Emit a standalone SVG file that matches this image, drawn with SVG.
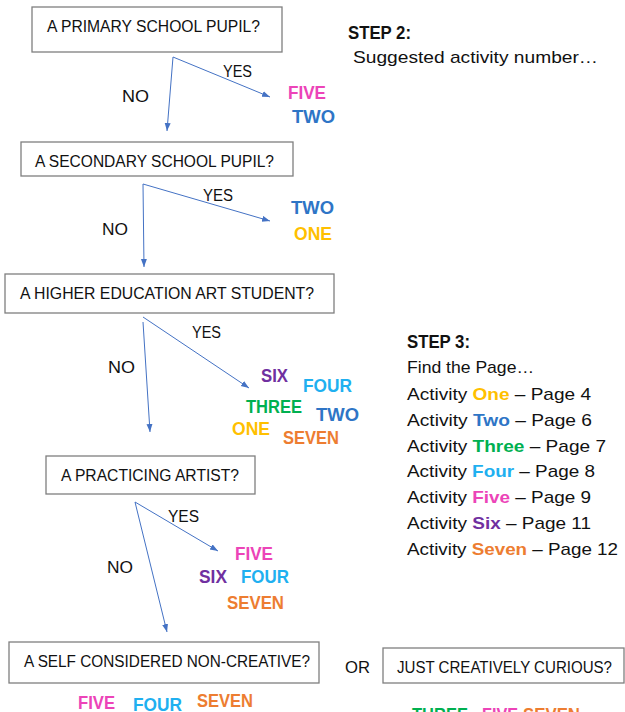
<svg xmlns="http://www.w3.org/2000/svg" width="625" height="712" viewBox="0 0 625 712">
<style>
.box{fill:#fff;stroke:#7f7f7f;stroke-width:1.3}
.bt{font-family:"Liberation Sans",Arial,sans-serif;font-size:16px;fill:#111}
.lbl{font-family:"Liberation Sans",Arial,sans-serif;font-size:16px;fill:#111}
.c{font-family:"Liberation Sans",Arial,sans-serif;font-size:19px;font-weight:bold}
.conn line{stroke:#4472c4;stroke-width:1}
.step{font-family:"Liberation Sans",Arial,sans-serif;font-size:18px;font-weight:bold;fill:#111}
.body{font-family:"Liberation Sans",Arial,sans-serif;font-size:17px;fill:#111}
.one{fill:#ffc000}.two{fill:#2e75c6}.three{fill:#00b050}.four{fill:#1fb0f0}.five{fill:#ec44b8}.six{fill:#7030a0}.seven{fill:#ed7d31}
</style>
<defs>
<marker id="ah" markerUnits="userSpaceOnUse" markerWidth="9" markerHeight="7" refX="8" refY="3" orient="auto">
<path d="M0,0 L8,3 L0,6 z" fill="#4472c4"/>
</marker>
</defs>

<g id="q1">
<rect class="box" x="32" y="7" width="250" height="45"/>
<text class="bt" x="47" y="32" textLength="213" lengthAdjust="spacingAndGlyphs">A PRIMARY SCHOOL PUPIL?</text>
</g>
<g id="q2">
<rect class="box" x="21" y="142" width="272" height="34"/>
<text class="bt" x="35" y="167" textLength="239" lengthAdjust="spacingAndGlyphs">A SECONDARY SCHOOL PUPIL?</text>
</g>
<g id="q3">
<rect class="box" x="5" y="274" width="329" height="39"/>
<text class="bt" x="20" y="299" textLength="294" lengthAdjust="spacingAndGlyphs">A HIGHER EDUCATION ART STUDENT?</text>
</g>
<g id="q4">
<rect class="box" x="46" y="456" width="209" height="38"/>
<text class="bt" x="61" y="481" textLength="178" lengthAdjust="spacingAndGlyphs">A PRACTICING ARTIST?</text>
</g>
<g id="q5">
<rect class="box" x="9" y="642" width="310" height="41"/>
<text class="bt" x="24" y="667" textLength="286" lengthAdjust="spacingAndGlyphs">A SELF CONSIDERED NON-CREATIVE?</text>
</g>
<g id="q6">
<rect class="box" x="383" y="648" width="241" height="35"/>
<text class="bt" x="397" y="673" textLength="215" lengthAdjust="spacingAndGlyphs">JUST CREATIVELY CURIOUS?</text>
</g>
<text class="lbl" x="345" y="673" textLength="25" lengthAdjust="spacingAndGlyphs">OR</text>

<g class="conn" id="connectors">
<line x1="173" y1="57" x2="167" y2="131" marker-end="url(#ah)"/>
<line x1="173" y1="57" x2="270" y2="97" marker-end="url(#ah)"/>
<line x1="143" y1="184" x2="144" y2="267" marker-end="url(#ah)"/>
<line x1="143" y1="184" x2="270" y2="221" marker-end="url(#ah)"/>
<line x1="143" y1="322" x2="150" y2="432" marker-end="url(#ah)"/>
<line x1="143" y1="317" x2="249" y2="388" marker-end="url(#ah)"/>
<line x1="135" y1="502" x2="167" y2="632" marker-end="url(#ah)"/>
<line x1="135" y1="502" x2="218" y2="551" marker-end="url(#ah)"/>
</g>

<g id="labels">
<text class="lbl" x="223" y="77" textLength="29" lengthAdjust="spacingAndGlyphs">YES</text>
<text class="lbl" x="122" y="102" textLength="27" lengthAdjust="spacingAndGlyphs">NO</text>
<text class="lbl" x="203" y="201" textLength="30" lengthAdjust="spacingAndGlyphs">YES</text>
<text class="lbl" x="102" y="235" textLength="26" lengthAdjust="spacingAndGlyphs">NO</text>
<text class="lbl" x="192" y="338" textLength="29" lengthAdjust="spacingAndGlyphs">YES</text>
<text class="lbl" x="108" y="373" textLength="27" lengthAdjust="spacingAndGlyphs">NO</text>
<text class="lbl" x="168" y="522" textLength="31" lengthAdjust="spacingAndGlyphs">YES</text>
<text class="lbl" x="107" y="573" textLength="26" lengthAdjust="spacingAndGlyphs">NO</text>
</g>

<g id="r1">
<text class="c five" x="288" y="99" textLength="38" lengthAdjust="spacingAndGlyphs">FIVE</text>
<text class="c two" x="292" y="123" textLength="43" lengthAdjust="spacingAndGlyphs">TWO</text>
</g>
<g id="r2">
<text class="c two" x="291" y="214" textLength="43" lengthAdjust="spacingAndGlyphs">TWO</text>
<text class="c one" x="294" y="240" textLength="38" lengthAdjust="spacingAndGlyphs">ONE</text>
</g>
<g id="r3">
<text class="c six" x="261" y="382" textLength="27" lengthAdjust="spacingAndGlyphs">SIX</text>
<text class="c four" x="303" y="392" textLength="49" lengthAdjust="spacingAndGlyphs">FOUR</text>
<text class="c three" x="246" y="413" textLength="56" lengthAdjust="spacingAndGlyphs">THREE</text>
<text class="c two" x="316" y="421" textLength="43" lengthAdjust="spacingAndGlyphs">TWO</text>
<text class="c one" x="232" y="435" textLength="38" lengthAdjust="spacingAndGlyphs">ONE</text>
<text class="c seven" x="283" y="444" textLength="56" lengthAdjust="spacingAndGlyphs">SEVEN</text>
</g>
<g id="r4">
<text class="c five" x="235" y="560" textLength="38" lengthAdjust="spacingAndGlyphs">FIVE</text>
<text class="c six" x="199" y="583" textLength="28" lengthAdjust="spacingAndGlyphs">SIX</text>
<text class="c four" x="241" y="583" textLength="48" lengthAdjust="spacingAndGlyphs">FOUR</text>
<text class="c seven" x="227" y="609" textLength="57" lengthAdjust="spacingAndGlyphs">SEVEN</text>
</g>
<g id="r5">
<text class="c five" x="78" y="709" textLength="37" lengthAdjust="spacingAndGlyphs">FIVE</text>
<text class="c four" x="133" y="711" textLength="49" lengthAdjust="spacingAndGlyphs">FOUR</text>
<text class="c seven" x="197" y="707" textLength="56" lengthAdjust="spacingAndGlyphs">SEVEN</text>
</g>
<g id="r6">
<text class="c three" x="412" y="721" textLength="56" lengthAdjust="spacingAndGlyphs">THREE</text>
<text class="c five" x="482" y="721" textLength="36" lengthAdjust="spacingAndGlyphs">FIVE</text>
<text class="c seven" x="523" y="721" textLength="57" lengthAdjust="spacingAndGlyphs">SEVEN</text>
</g>

<g id="step2">
<text class="step" x="348" y="39" textLength="63" lengthAdjust="spacingAndGlyphs">STEP 2:</text>
<text class="body" x="353" y="63" textLength="245" lengthAdjust="spacingAndGlyphs">Suggested activity number…</text>
</g>

<g id="step3">
<text class="step" x="407" y="348" textLength="63" lengthAdjust="spacingAndGlyphs">STEP 3:</text>
<text class="body" x="407" y="373" textLength="127" lengthAdjust="spacingAndGlyphs">Find the Page…</text>
<text class="body" x="407" y="400" textLength="184" lengthAdjust="spacingAndGlyphs">Activity <tspan class="one" font-weight="bold">One</tspan> – Page 4</text>
<text class="body" x="407" y="426" textLength="185" lengthAdjust="spacingAndGlyphs">Activity <tspan class="two" font-weight="bold">Two</tspan> – Page 6</text>
<text class="body" x="407" y="452" textLength="199" lengthAdjust="spacingAndGlyphs">Activity <tspan class="three" font-weight="bold">Three</tspan> – Page 7</text>
<text class="body" x="407" y="477" textLength="188" lengthAdjust="spacingAndGlyphs">Activity <tspan class="four" font-weight="bold">Four</tspan> – Page 8</text>
<text class="body" x="407" y="503" textLength="184" lengthAdjust="spacingAndGlyphs">Activity <tspan class="five" font-weight="bold">Five</tspan> – Page 9</text>
<text class="body" x="407" y="529" textLength="184" lengthAdjust="spacingAndGlyphs">Activity <tspan class="six" font-weight="bold">Six</tspan> – Page 11</text>
<text class="body" x="407" y="555" textLength="211" lengthAdjust="spacingAndGlyphs">Activity <tspan class="seven" font-weight="bold">Seven</tspan> – Page 12</text>
</g>
</svg>
